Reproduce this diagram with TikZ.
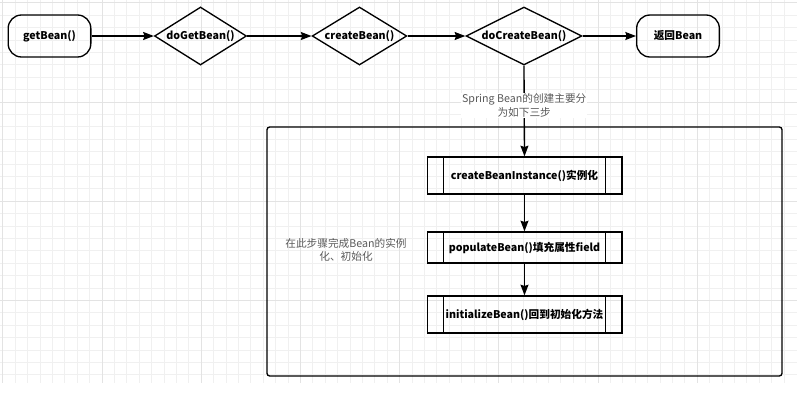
\documentclass[tikz,border=0pt]{standalone}
\usepackage{fontspec}
\setmainfont{Noto Sans CJK SC}
\usepackage{xcolor}
\usetikzlibrary{shapes.geometric,arrows.meta}

\begin{document}
\begin{tikzpicture}[x=0.75pt,y=-0.75pt,line width=1pt,
    font=\fontsize{8pt}{10pt}\selectfont,
    term/.style={draw, rounded corners=10pt, minimum width=62pt, minimum height=31.5pt, font=\fontsize{8pt}{10pt}\selectfont\bfseries},
    decide/.style={draw, diamond, inner sep=0pt, minimum height=43.5pt, font=\fontsize{8pt}{10pt}\selectfont\bfseries},
    proc/.style={draw, minimum width=146pt, font=\fontsize{8pt}{10pt}\selectfont\bfseries},
    note/.style={text=black!65, align=center, inner sep=0.5pt},
    flow/.style={-{Stealth[length=8pt,width=6pt,inset=1pt]}}]
  \useasboundingbox (0,0) rectangle (804,415);
  % background grid
  \foreach \k in {0,...,63}
      \draw[line width=0.5pt, black!6] ({2.8+12.4*\k},0) -- ({2.8+12.4*\k},383);
  \foreach \k in {0,...,30}
      \draw[line width=0.5pt, black!6] (0,{2.8+12.4*\k}) -- (797,{2.8+12.4*\k});
  \foreach \k in {0,...,7}
      \draw[line width=0.5pt, black!11] ({2.8+99.2*\k},0) -- ({2.8+99.2*\k},383);
  \foreach \k in {0,...,3}
      \draw[line width=0.5pt, black!11] (0,{2.8+99.2*\k}) -- (797,{2.8+99.2*\k});
  % top row
  \node[term] (get) at (49.5,36) {getBean()};
  \node[decide, minimum width=69pt, aspect=1.59] (doget) at (200.5,36) {doGetBean()};
  \node[decide, minimum width=71pt, aspect=1.64] (create) at (359.5,36) {createBean()};
  \node[decide, minimum width=87pt, aspect=2] (docreate) at (524,36) {doCreateBean()};
  \node[term] (ret) at (678,36) {返回Bean};
  \draw[flow] (get) -- (doget);
  \draw[flow] (doget) -- (create);
  \draw[flow] (create) -- (docreate);
  \draw[flow] (docreate) -- (ret);
  % the three steps
  \node[draw, rounded corners=2pt, minimum width=386.25pt, minimum height=186.75pt] (steps) at (524.5,251.5) {};
  \node[proc, minimum height=27.75pt] (inst) at (524.5,175.5) {createBeanInstance()实例化};
  \node[proc, minimum height=23.25pt] (pop) at (524.5,247.5) {populateBean()填充属性field};
  \node[proc, minimum height=27.75pt] (init) at (524.5,314.5) {initializeBean()回到初始化方法};
  \foreach \b in {inst,pop,init} {
      \draw ([xshift=12.75pt]\b.north west) -- ([xshift=12.75pt]\b.south west);
      \draw ([xshift=-12.75pt]\b.north east) -- ([xshift=-12.75pt]\b.south east);
  }
  \draw[flow] (docreate.south) -- node[note, fill=white, pos=0.44] (lbl) {Spring Bean的创建主要分\\为如下三步} (inst.north);
  \draw[flow] (inst) -- (pop);
  \draw[flow] (pop) -- (init);
  \node[note] (what) at (346,250) {在此步骤完成Bean的实例\\化、初始化};
\end{tikzpicture}
\end{document}
